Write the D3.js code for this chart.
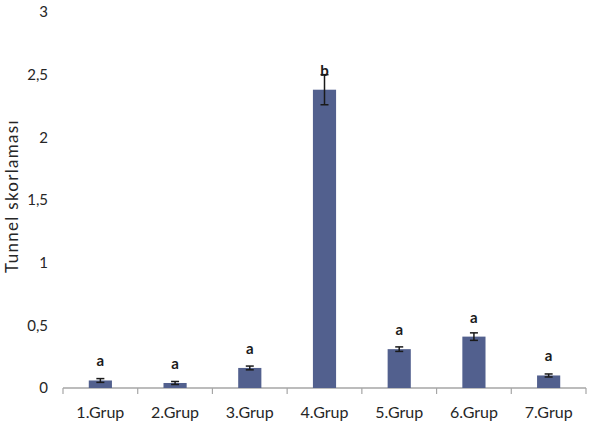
<!DOCTYPE html>
<html>
<head>
<meta charset="utf-8">
<script src="https://cdn.jsdelivr.net/npm/d3@7/dist/d3.min.js"></script>
<style>
  html, body { margin: 0; padding: 0; background: #fff; }
  svg { display: block; font-family: Lato, "Open Sans", sans-serif; }
</style>
</head>
<body>
<svg id="chart" width="590" height="428"></svg>
<script>
// Tunnel scores per group, with standard error and significance letters
const groups = ["1.Grup", "2.Grup", "3.Grup", "4.Grup", "5.Grup", "6.Grup", "7.Grup"];
const means = [0.06, 0.04, 0.16, 2.38, 0.31, 0.41, 0.10];
const errors = [0.015, 0.012, 0.015, 0.12, 0.018, 0.03, 0.012];
const letters = ["a", "a", "a", "b", "a", "a", "a"];
const yTicks = [0, 0.5, 1, 1.5, 2, 2.5, 3];

const svg = d3.select("#chart");
const margin = { top: 12, right: 4, bottom: 40, left: 63 };
const width = 590 - margin.left - margin.right;
const height = 428 - margin.top - margin.bottom;

const g = svg.append("g").attr("transform", `translate(${margin.left},${margin.top})`);

const x = d3.scaleBand().domain(groups).range([0, width]).paddingInner(0.69).paddingOuter(0.345);
const y = d3.scaleLinear().domain([0, 3]).range([height, 0]);

// y axis: labels only, comma decimal separator
const fmt = d => d3.format("")(d).replace(".", ",");
const yAxis = g.append("g")
  .call(d3.axisLeft(y).tickValues(yTicks).tickSize(0).tickPadding(15).tickFormat(fmt));
yAxis.select(".domain").remove();
yAxis.selectAll("text").attr("fill", "#262626").style("font-size", "15px").style("font-family", "Lato, sans-serif");

// x axis line with tick marks between categories
const xb = g.append("g").attr("transform", `translate(0,${height})`);
xb.append("line").attr("x1", 0).attr("x2", width).attr("stroke", "#a6a6a6").attr("stroke-width", 1.5);
const bounds = d3.range(groups.length + 1).map(i => i * width / groups.length);
xb.selectAll("line.tk").data(bounds).join("line").attr("class", "tk")
  .attr("x1", d => d).attr("x2", d => d).attr("y1", 0).attr("y2", 6)
  .attr("stroke", "#a6a6a6").attr("stroke-width", 1.2);
xb.selectAll("text").data(groups).join("text")
  .attr("x", d => x(d) + x.bandwidth() / 2).attr("y", 30)
  .attr("text-anchor", "middle").attr("fill", "#262626")
  .style("font-size", "16px").text(d => d);

// bars
const data = groups.map((k, i) => ({ k, m: means[i], e: errors[i], l: letters[i] }));
g.selectAll("rect.bar").data(data).join("rect").attr("class", "bar")
  .attr("x", d => x(d.k)).attr("width", x.bandwidth())
  .attr("y", d => y(d.m)).attr("height", d => y(0) - y(d.m))
  .attr("fill", "#52608e");

// error bars
const cx = d => x(d.k) + x.bandwidth() / 2;
const eb = g.selectAll("g.err").data(data).join("g").attr("class", "err");
eb.append("line")
  .attr("x1", cx).attr("x2", cx)
  .attr("y1", d => y(d.m + d.e)).attr("y2", d => y(Math.max(0, d.m - d.e)))
  .attr("stroke", "#1a1a1a").attr("stroke-width", 1.5);
[d => d.m + d.e, d => Math.max(0, d.m - d.e)].forEach(v => {
  eb.append("line")
    .attr("x1", d => cx(d) - 4).attr("x2", d => cx(d) + 4)
    .attr("y1", d => y(v(d))).attr("y2", d => y(v(d)))
    .attr("stroke", "#1a1a1a").attr("stroke-width", 1.5);
});

// significance letters above each bar
g.selectAll("text.sig").data(data).join("text").attr("class", "sig")
  .attr("x", cx).attr("y", d => y(d.m) - 14)
  .attr("text-anchor", "middle").attr("fill", "#1a1a1a")
  .style("font-size", "15px").style("font-weight", "bold").text(d => d.l);

// y axis title
svg.append("text")
  .attr("transform", "translate(18,196) rotate(-90)")
  .attr("text-anchor", "middle").attr("fill", "#262626")
  .style("font-size", "17px").style("letter-spacing", "1.3px").text("Tunnel skorlaması");
</script>
</body>
</html>
